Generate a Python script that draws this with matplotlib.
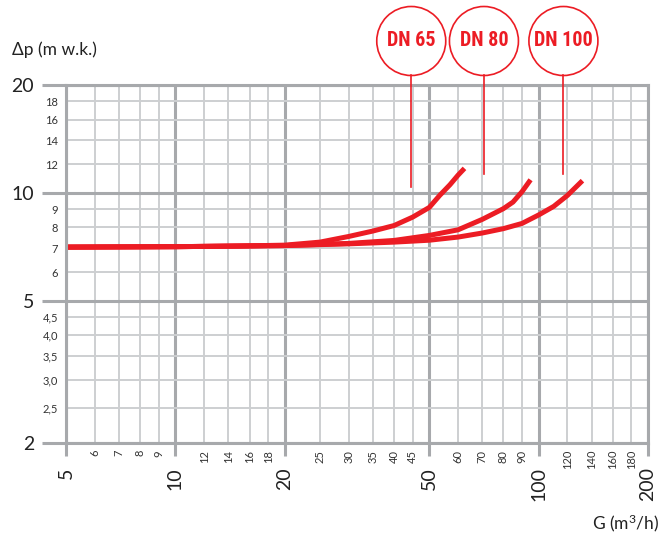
import numpy as np
import matplotlib
matplotlib.use("Agg")
import matplotlib.pyplot as plt
from matplotlib.patches import Ellipse
from matplotlib.lines import Line2D

# curves (G in m3/h, dp in m w.k.)
g_dn65 = [5, 10, 15, 20, 25, 30, 35, 40, 45, 50, 53.4, 57, 60, 62.5]
dp_dn65 = [7.05, 7.07, 7.1, 7.14, 7.28, 7.55, 7.82, 8.1, 8.55, 9.1, 9.83, 10.53, 11.2, 11.7]

g_dn80 = [5, 10, 20, 30, 40, 50, 60, 70, 80, 85, 90, 95]
dp_dn80 = [7.05, 7.07, 7.12, 7.22, 7.36, 7.6, 7.88, 8.43, 9.03, 9.42, 10.07, 10.87]

g_dn100 = [5, 10, 20, 30, 40, 50, 60, 70, 80, 90, 100, 110, 120, 132]
dp_dn100 = [7.05, 7.07, 7.12, 7.2, 7.28, 7.37, 7.52, 7.72, 7.94, 8.21, 8.67, 9.16, 9.83, 10.81]

labels = ["DN 65", "DN 80", "DN 100"]
lead_x = [44.6, 70.7, 117]
lead_y = [10.4, 11.3, 11.3]

x_major = [5, 10, 20, 50, 100, 200]
x_minor = [6, 7, 8, 9, 12, 14, 16, 18, 25, 30, 35, 40, 45, 60, 70, 80, 90,
           120, 140, 160, 180]
y_major = [2, 5, 10, 20]
y_minor = [2.5, 3.0, 3.5, 4.0, 4.5, 6, 7, 8, 9, 12, 14, 16, 18]
y_minor_lbl = ["2,5", "3,0", "3,5", "4,0", "4,5", "6", "7", "8", "9",
               "12", "14", "16", "18"]

red = "#ec1c24"
gmaj = "#a7a9ac"
gmin = "#cdcfd1"

plt.rcParams['font.family'] = ['Lato', 'DejaVu Sans']
plt.rcParams['mathtext.default'] = 'regular'

W, H = 672, 535
fig = plt.figure(figsize=(W / 100, H / 100), dpi=100)
ax = fig.add_axes([66 / W, 1 - 443 / H, (648 - 66) / W, (443 - 85) / H])
ax.set_xscale('log')
ax.set_yscale('log')
ax.set_xlim(5, 200)
ax.set_ylim(2, 20)

ax.set_xticks(x_major, labels=[str(v) for v in x_major])
ax.set_xticks(x_minor, labels=[str(v) for v in x_minor], minor=True)
ax.set_yticks(y_major, labels=[str(v) for v in y_major])
ax.set_yticks(y_minor, labels=y_minor_lbl, minor=True)

ax.tick_params(axis='x', which='major', length=9.5, width=2.2, color=gmaj,
               labelsize=14, pad=8, labelrotation=90, labelcolor='#222222')
ax.tick_params(axis='x', which='minor', length=0, pad=5, labelsize=8,
               labelrotation=90, labelcolor='#333333')
ax.tick_params(axis='y', which='major', length=17, width=2.2, color=gmaj,
               labelsize=14, pad=6, labelcolor='#222222')
ax.tick_params(axis='y', which='minor', length=0, pad=5.5, labelsize=8,
               labelcolor='#333333')

ax.grid(which='major', color=gmaj, lw=2.2)
ax.grid(which='minor', color=gmin, lw=1.4)
ax.set_axisbelow(True)
for s in ax.spines.values():
    s.set_color(gmaj)
    s.set_linewidth(2.2)

for g, dp in [(g_dn65, dp_dn65), (g_dn80, dp_dn80), (g_dn100, dp_dn100)]:
    ax.plot(g, dp, color=red, lw=3.6, solid_capstyle='butt', solid_joinstyle='round')

# circle labels with leader lines
inv = fig.transFigure.inverted()
top_px = ax.transAxes.transform((0, 1))[1]
r = 34.5
for xl, yl, lab in zip(lead_x, lead_y, labels):
    px, py = ax.transData.transform((xl, yl))
    cy = top_px + 44
    f0 = inv.transform((px, py))
    f1 = inv.transform((px, cy - r))
    fc = inv.transform((px, cy))
    fig.add_artist(Line2D([f0[0], f1[0]], [f0[1], f1[1]], color=red, lw=1.2,
                          transform=fig.transFigure))
    fig.add_artist(Ellipse(fc, 2 * r / W, 2 * r / H, transform=fig.transFigure,
                           facecolor='white', edgecolor=red, lw=1.2))
    fig.text(fc[0], fc[1], lab, ha='center', va='center', color=red,
             fontsize=14.5, fontweight='bold',
             family=['Roboto Condensed', 'Roboto'])

fig.text(12 / W, 1 - 50 / H, "Δp (m w.k.)", va='center', fontsize=12.5,
         color='#222222')
fig.text(659 / W, 1 - 523 / H, "G (m$^3$/h)", ha='right', va='center',
         fontsize=12.5, color='#222222')

fig.savefig("out.png", dpi=100)
